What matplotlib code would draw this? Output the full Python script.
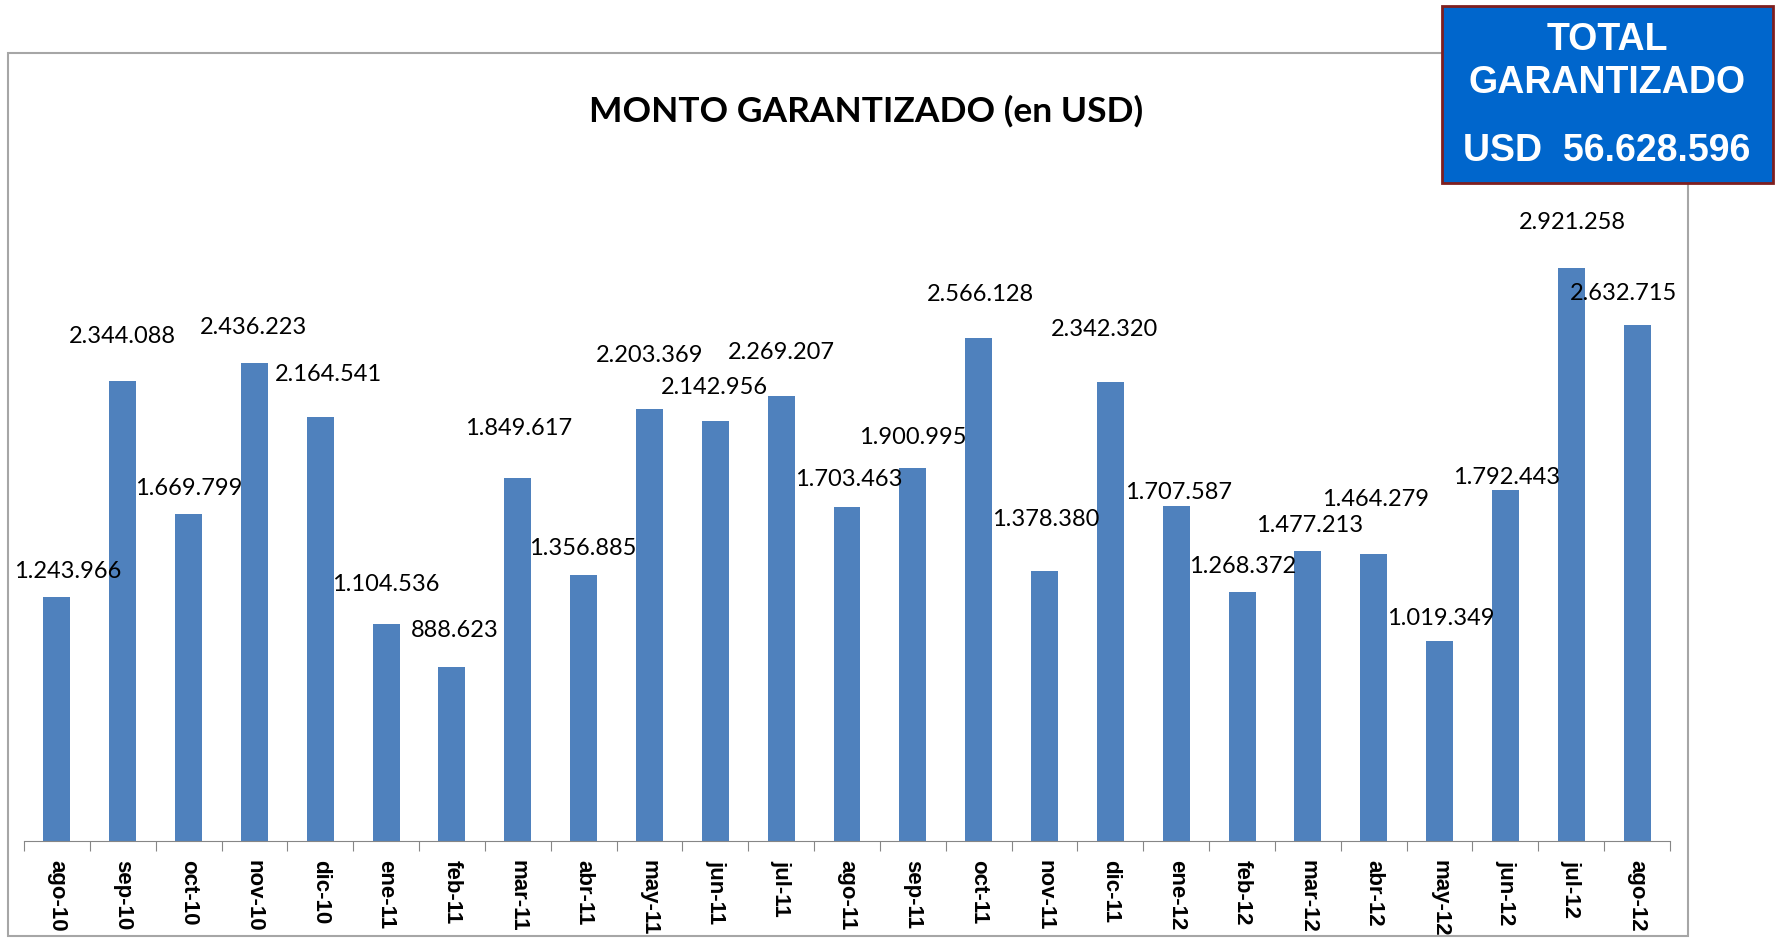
import matplotlib.pyplot as plt
from matplotlib.patches import Rectangle

months = ['ago-10', 'sep-10', 'oct-10', 'nov-10', 'dic-10', 'ene-11', 'feb-11',
          'mar-11', 'abr-11', 'may-11', 'jun-11', 'jul-11', 'ago-11', 'sep-11',
          'oct-11', 'nov-11', 'dic-11', 'ene-12', 'feb-12', 'mar-12', 'abr-12',
          'may-12', 'jun-12', 'jul-12', 'ago-12']
montos = [1243966, 2344088, 1669799, 2436223, 2164541, 1104536, 888623,
          1849617, 1356885, 2203369, 2142956, 2269207, 1703463, 1900995,
          2566128, 1378380, 2342320, 1707587, 1268372, 1477213, 1464279,
          1019349, 1792443, 2921258, 2632715]
total_txt = 'USD  56.628.596'

# label offsets (pixels) as placed in the original chart
lbl_dx = [11, 0, 0, -1, 8, 0, 3, 1, -1, 0, -1, 0, 2, 0, 2, 1, -6, 2, 1, 2, 2, 1, 1, 1, -14]
lbl_dy = [26, 45, 25, 36, 42, 40, 36, 50, 26, 53, 33, 44, 27, 31, 43, 51, 52, 14, 26, 26, 54, 23, 12, 46, 31]


def fmt(v):
    return f'{v:,}'.replace(',', '.')


fig = plt.figure(figsize=(17.75, 9.38), dpi=100)
fig.patch.set_facecolor('white')

# outer chart frame
fig.patches.append(Rectangle((8 / 1775, 2 / 938), (1688 - 8) / 1775, (938 - 53 - 2) / 938,
                             transform=fig.transFigure, fill=False,
                             edgecolor='#A6A6A6', lw=1.5))

ax = fig.add_axes([24 / 1775, 97 / 938, 1646 / 1775, 686 / 938])
x = range(len(months))
ax.bar(x, montos, width=0.41, color='#4F81BD')
ax.set_xlim(-0.5, len(months) - 0.5)
ax.set_ylim(0, 2921258 * 686 / 572.8)

for i, v in enumerate(montos):
    ax.annotate(fmt(v), (i, v), xytext=(lbl_dx[i], lbl_dy[i]), textcoords='offset pixels',
                ha='center', va='center', fontsize=17, family='Lato', color='black')

for s in ['top', 'right', 'left']:
    ax.spines[s].set_visible(False)
ax.spines['bottom'].set_color('#868686')
ax.set_yticks([])
ax.set_xticks([i - 0.5 for i in range(len(months) + 1)], minor=False)
ax.set_xticklabels([])
ax.tick_params(axis='x', which='major', length=7, color='#868686', direction='out')
ax.set_xticks(list(x), minor=True)
ax.set_xticklabels(months, minor=True, rotation=270, fontsize=16,
                   family='Liberation Sans', fontweight='bold', color='black')
ax.tick_params(axis='x', which='minor', length=0, pad=14)

fig.text(866 / 1775, 1 - 111 / 938, 'MONTO GARANTIZADO (en USD)', ha='center', va='center',
         fontsize=25.5, fontweight='bold', family='Lato', color='black')

# total box
fig.patches.append(Rectangle((1442 / 1775, 1 - 183 / 938), 331 / 1775, 177 / 938,
                             transform=fig.transFigure, facecolor='#0066CC',
                             edgecolor='#7F1F1F', lw=2, zorder=5))
for txt, yy in [('TOTAL', 40), ('GARANTIZADO', 83), (total_txt, 151)]:
    fig.text(1607 / 1775, 1 - yy / 938, txt, ha='center', va='center', fontsize=27,
             fontweight='bold', family='Liberation Sans', color='white', zorder=6)

fig.savefig('out.png', dpi=100, facecolor='white')
